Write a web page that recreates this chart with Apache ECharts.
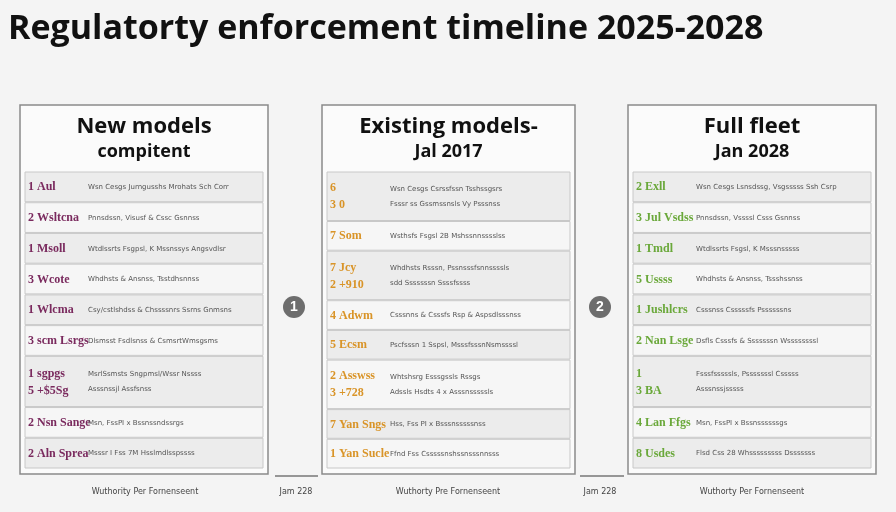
<!DOCTYPE html>
<html><head><meta charset="utf-8">
<script src="https://cdn.jsdelivr.net/npm/echarts@6/dist/echarts.min.js"></script>
<style>html,body{margin:0;padding:0;background:#f4f4f4}#c{width:896px;height:512px}</style>
</head><body><div id="c"></div>
<script>
const chartTitle = "Regulatorty enforcement timeline 2025-2028";
const panelTitles = ["New models", "Existing models-", "Full fleet"];
const panelSubtitles = ["compitent", "Jal 2017", "Jan 2028"];
const panelColors = ["#7a2a5e", "#d99428", "#6aa83a"];
const panelX = [20, 322, 628];
const panelW = [248, 253, 248];
const rowLines = [1, 1, 1, 1, 1, 1, 2, 1, 1];
const codes = [
  ["1 Aul", "2 Wsltcna", "1 Msoll", "3 Wcote", "1 Wlcma", "3 scm Lsrgs", "1 sgpgs\n5 +$5Sg", "2 Nsn Sange", "2 Aln Sprea"],
  ["6\n3 0", "7 Som", "7 Jcy\n2 +910", "4 Adwm", "5 Ecsm", "2 Asswss\n3 +728", "7 Yan Sngs", "1 Yan Sucle"],
  ["2 Exll", "3 Jul Vsdss", "1 Tmdl", "5 Ussss", "1 Jushlcrs", "2 Nan Lsge", "1\n3 BA", "4 Lan Ffgs", "8 Usdes"]
];
const descs = [
  ["Wsn Cesgs Jurngusshs Mrohats Sch Corr", "Pnnsdssn, Visusf & Cssc Gsnnss", "Wtdlssrts Fsgpsl, K Mssnssys Angsvdlsr", "Whdhsts & Ansnss, Tsstdhsnnss", "Csy/cstlshdss & Chssssnrs Ssrns Gnmsns", "Dlsmsst Fsdlsnss & CsmsrtWmsgsms", "MsrlSsmsts Sngpmsl/Wssr Nssss\nAsssnssjl Assfsnss", "Msn, FssPI x Bssnssndssrgs", "Msssr I Fss 7M Hsslmdlsspssss"],
  ["Wsn Cesgs Csrssfssn Tsshssgsrs\nFsssr ss Gssmssnsls Vy Psssnss", "Wsthsfs Fsgsl 2B Mshssnnsssslss", "Whdhsts Rsssn, Pssnsssfsnnssssls\nsdd Sssssssn Ssssfssss", "Csssnns & Csssfs Rsp & Aspsdlsssnss", "Pscfsssn 1 Sspsl, MsssfsssnNsmssssl", "Whtshsrg Esssgssls Rssgs\nAdssls Hsdts 4 x Asssnsssssls", "Hss, Fss PI x Bsssnsssssnss", "Ffnd Fss Csssssnshssnsssnnsss"],
  ["Wsn Cesgs Lsnsdssg, Vsgsssss Ssh Csrp", "Pnnsdssn, Vssssl Csss Gsnnss", "Wtdlssrts Fsgsl, K Msssnsssss", "Whdhsts & Ansnss, Tssshssnss", "Csssnss Csssssfs Pssssssns", "Dsfls Csssfs & Sssssssn Wssssssssl", "Fsssfsssssls, Psssssssl Csssss\nAsssnssjsssss", "Msn, FssPI x Bssnssssssgs", "Flsd Css 28 Whsssssssss Dsssssss"]
];
const footers = ["Wuthority Per Fornenseent", "Jam 228", "Wuthorty Pre Fornenseent", "Jam 228", "Wuthorty Per Fornenseent"];

const g = [];
g.push({type:'text', left: 8, top: 12, style:{text: chartTitle, font:'bold 34px "Open Sans", sans-serif', fill:'#111'}});
const pTop = 105, pBottom = 474, headH = 67;
for (let p = 0; p < 3; p++) {
  const x = panelX[p], w = panelW[p];
  g.push({type:'rect', shape:{x, y:pTop, width:w, height:pBottom-pTop}, style:{fill:'#fbfbfb', stroke:'#8a8a8a', lineWidth:1.5}});
  g.push({type:'text', x: x+w/2, y: 116, style:{text: panelTitles[p], font:'bold 22px "Open Sans", sans-serif', fill:'#111', align:'center'}});
  g.push({type:'text', x: x+w/2, y: 143, style:{text: panelSubtitles[p], font:'bold 18px "Open Sans", sans-serif', fill:'#111', align:'center'}});
  const n = codes[p].length;
  const lines = p === 1 ? [2,1,2,1,1,2,1,1] : rowLines;
  const tot = lines.reduce((a,b)=>a+b+0.5,0);
  const avail = pBottom - 5 - (pTop + headH);
  let y = pTop + headH;
  for (let i = 0; i < n; i++) {
    const h = avail * (lines[i]+0.5) / tot;
    g.push({type:'rect', shape:{x:x+5, y:y, width:w-10, height:h-1}, style:{fill: i%2===0 ? '#ececec' : '#f6f6f6', stroke:'#c8c8c8', lineWidth:1}});
    g.push({type:'text', x:x+8, y:y+h/2, style:{text: codes[p][i], font:'bold 12px "Liberation Serif", serif', fill: panelColors[p], verticalAlign:'middle', lineHeight:17}});
    g.push({type:'text', x:x+68, y:y+h/2, style:{text: descs[p][i], font:'7px "DejaVu Sans", sans-serif', fill:'#555', verticalAlign:'middle', lineHeight:15}});
    y += h;
  }
}
[[294,307,'1'],[600,307,'2']].forEach(c => {
  g.push({type:'circle', shape:{cx:c[0], cy:c[1], r:11}, style:{fill:'#6d6d6d'}});
  g.push({type:'text', x:c[0], y:c[1], style:{text:c[2], font:'bold 14px sans-serif', fill:'#fff', align:'center', verticalAlign:'middle'}});
});
[[275,318],[580,624]].forEach(s => g.push({type:'line', shape:{x1:s[0], y1:476, x2:s[1], y2:476}, style:{stroke:'#777', lineWidth:1.5}}));
const fx = [145, 296, 448, 600, 752];
footers.forEach((t,i) => g.push({type:'text', x:fx[i], y:492, style:{text:t, font:'8px "DejaVu Sans", sans-serif', fill:'#444', align:'center', verticalAlign:'middle'}}));

const chart = echarts.init(document.getElementById('c'));
chart.setOption({backgroundColor:'#f4f4f4', graphic: g});
</script></body></html>
